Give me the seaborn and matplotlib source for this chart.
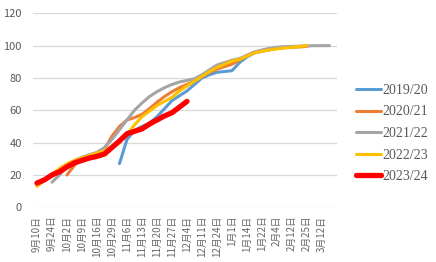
import numpy as np
import pandas as pd
import matplotlib
matplotlib.use("Agg")
import matplotlib.pyplot as plt
import seaborn as sns

# ---- data ----
tick_labels = ['9月10日', '9月24日', '10月2日', '10月9日', '10月16日', '10月29日',
               '11月6日', '11月13日', '11月20日', '11月27日', '12月4日', '12月11日',
               '12月24日', '1月1日', '1月14日', '1月22日', '2月4日', '2月12日',
               '2月25日', '3月12日']
n_categories = 40  # labels shown on every other category

seasons = ['2019/20', '2020/21', '2021/22', '2022/23', '2023/24']

start_1920 = 11
v_1920 = [27, 42, 47.5, 50, 52, 56, 61, 66, 69, 72, 76, 80, 82, 83.5, 84, 84.5,
          89.5, 93, 95.5, 96.5, 97.5, 98.5, 99, 99.5]

start_2021 = 4
v_2021 = [20, 26, 30, 31.5, 33, 36, 44, 50, 54, 55.5, 57.5, 61, 65, 68.5, 71.5, 74,
          76, 78, 81, 83.5, 85.5, 87, 88.5, 91, 94, 96, 97, 97.5, 98.3, 98.8, 99,
          99.2, 99.5]

start_2122 = 2
v_2122 = [15.5, 20, 25, 29, 31, 32.5, 34, 37, 42, 48, 54, 60, 64.5, 68.5, 71.5, 74,
          76, 77.5, 78.5, 79.5, 82, 85, 88, 89.5, 91, 92, 94, 96, 97.3, 98.3, 99,
          99.3, 99.5, 99.7, 99.8, 100, 100, 100]

start_2223 = 0
v_2223 = [13, 16.5, 20.5, 24, 27, 29, 30.5, 32, 33.5, 35, 37.5, 40.5, 45, 51, 56,
          59.5, 63, 65.5, 68, 72, 75, 78, 81, 84, 86.5, 88.5, 90.5, 91.5, 93.5, 95.5,
          96.5, 97.3, 98, 98.5, 99, 99.5, 100]

start_2324 = 0
v_2324 = [15, 17, 20, 22, 25, 27.5, 29, 30.5, 31.5, 33, 37, 41, 45.5, 47, 48.5,
          51.5, 54, 56.5, 58.5, 62, 65.5]

series = {
    '2019/20': (start_1920, v_1920),
    '2020/21': (start_2021, v_2021),
    '2021/22': (start_2122, v_2122),
    '2022/23': (start_2223, v_2223),
    '2023/24': (start_2324, v_2324),
}

rows = []
for s, (st, vals) in series.items():
    for k, v in enumerate(vals):
        rows.append({'season': s, 'idx': st + k, 'value': v})
df = pd.DataFrame(rows)

colors = {'2019/20': '#5B9BD5', '2020/21': '#ED7D31', '2021/22': '#A5A5A5',
          '2022/23': '#FFC000', '2023/24': '#FF0000'}
widths = {'2019/20': 2.2, '2020/21': 2.2, '2021/22': 2.2, '2022/23': 2.2,
          '2023/24': 3.8}

# ---- plot ----
sns.set_theme(style='white')
plt.rcParams['font.family'] = ['Noto Sans CJK SC', 'DejaVu Sans']

fig = plt.figure(figsize=(4.36, 2.62), dpi=100)
ax = fig.add_axes([33 / 436, 1 - 207.3 / 262, 304 / 436, (207.3 - 13.3) / 262])

for s in seasons:
    sub = df[df['season'] == s]
    sns.lineplot(data=sub, x='idx', y='value', ax=ax, color=colors[s],
                 linewidth=widths[s], label=s, sort=False)
for ln in ax.lines:
    ln.set_solid_capstyle('round')
    ln.set_solid_joinstyle('round')

ax.set_xlim(-0.53, 40.0)
ax.set_ylim(0, 120)
ax.set_yticks(range(0, 121, 20))
ax.set_xticks(range(0, n_categories, 2))
ax.set_xticklabels(tick_labels, rotation=90, fontsize=7, color='#666666',
                   family=['Noto Sans CJK SC', 'DejaVu Sans'])
ax.tick_params(axis='y', labelsize=8, labelcolor='#595959', length=0, pad=8)
ax.tick_params(axis='x', length=0, pad=6)
ax.set_xlabel('')
ax.set_ylabel('')
ax.yaxis.grid(True, color='#D9D9D9', linewidth=0.9)
ax.xaxis.grid(False)
for sp in ax.spines.values():
    sp.set_visible(False)

leg = ax.legend(loc='center left', bbox_to_anchor=(355.5 / 436, 1 - 133.5 / 262),
                bbox_transform=fig.transFigure, frameon=False,
                prop={'family': 'Liberation Serif', 'size': 10},
                handlelength=1.8, handletextpad=0.15, labelspacing=0.62,
                borderpad=0, borderaxespad=0)
for t in leg.get_texts():
    t.set_color('#595959')

fig.savefig('out.png', dpi=100)
